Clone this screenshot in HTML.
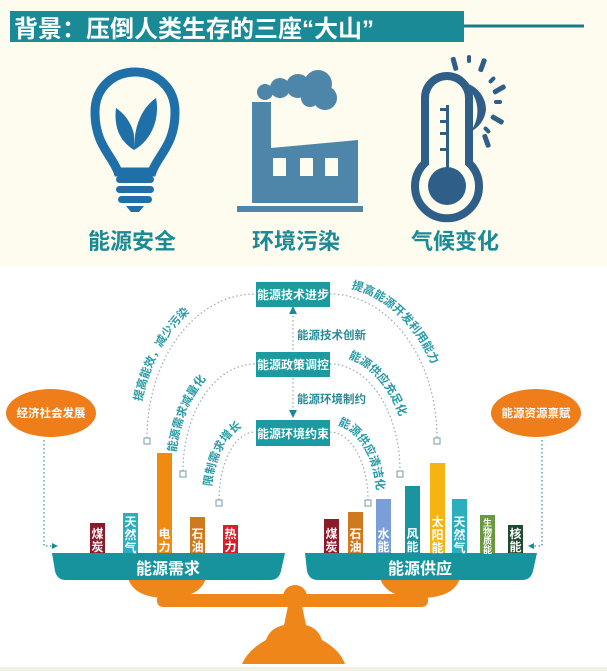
<!DOCTYPE html>
<html><head><meta charset="utf-8"><style>
html,body{margin:0;padding:0;background:#fff}
svg{display:block}
text{font-family:"Liberation Sans","Noto Sans CJK SC",sans-serif;font-weight:bold}
</style></head><body>
<svg width="607" height="671" viewBox="0 0 607 671" xmlns="http://www.w3.org/2000/svg">
<rect x="0" y="0" width="607" height="266" fill="#fdfcee"/>
<rect x="0" y="266" width="607" height="405" fill="#ffffff"/>
<!-- header -->
<rect x="10" y="11" width="454" height="31" fill="#1a8a96"/>
<line x1="464" y1="26" x2="584" y2="26" stroke="#1a7a86" stroke-width="3"/>
<text x="14" y="37" font-size="24" fill="#fff" font-family="Liberation Serif,Noto Serif CJK SC,serif">背景：压倒人类生存的三座“大山”</text>

<!-- bulb -->
<g fill="none" stroke="#1f6fa8">
<path d="M118,172 C112,155 95,145 95,112 C95,88 113,72 135,72 C157,72 175,88 175,112 C175,145 158,155 152,172 Z" stroke-width="9"/>
</g>
<g fill="#1f6fa8">
<rect x="116" y="176" width="38" height="7" rx="3.5"/>
<rect x="116" y="186" width="38" height="7" rx="3.5"/>
<rect x="118" y="196" width="34" height="7" rx="3.5"/>
<path d="M126,206 L144,206 L139,212 L131,212 Z"/>
<path d="M134,150 C118,140 114,125 116,108 C125,114 132,124 134,135 Z"/>
<path d="M134,150 C134,125 142,108 156,98 C160,118 152,140 134,150 Z"/>
</g>
<!-- factory -->
<g fill="#4d86a8">
<rect x="237" y="206" width="126" height="6"/>
<path d="M252,203 L252,102 L271,102 L271,148 L358,140 L358,203 Z"/>
<circle cx="265" cy="92" r="8"/><circle cx="280" cy="88" r="10"/><circle cx="298" cy="86" r="12"/><circle cx="318" cy="84" r="14"/><circle cx="325" cy="98" r="12"/><circle cx="310" cy="98" r="9"/>
</g>
<g fill="#fdfcee">
<rect x="273" y="158" width="13" height="18"/><rect x="300" y="158" width="13" height="18"/><rect x="325" y="158" width="13" height="18"/>
</g>
<!-- thermometer -->
<g fill="#2f5f88" stroke="none">
<path d="M458,82 A28,28 0 0 1 486,110 A28,28 0 0 1 470,132 A26,30 0 0 0 458,82 Z"/>
<rect x="452" y="57" width="5" height="14" rx="2" transform="rotate(-15 454 64)"/>
<rect x="467" y="55" width="4" height="8" rx="2"/>
<rect x="480" y="58" width="5" height="14" rx="2" transform="rotate(20 482 65)"/>
<rect x="490" y="76" width="4" height="8" rx="2" transform="rotate(45 492 80)"/>
<rect x="497" y="82" width="5" height="14" rx="2" transform="rotate(60 499 89)"/>
<rect x="494" y="100" width="8" height="4" rx="2"/>
<rect x="495" y="113" width="5" height="14" rx="2" transform="rotate(-60 497 120)"/>
<rect x="485" y="126" width="4" height="8" rx="2" transform="rotate(-45 487 130)"/>
<rect x="484" y="134" width="5" height="14" rx="2" transform="rotate(-20 486 141)"/>
</g>
<path d="M425,163 L425,98 A22,22 0 0 1 469,98 L469,163 A32,32 0 1 1 425,163 Z" fill="none" stroke="#2f5f88" stroke-width="8"/>
<circle cx="447" cy="186" r="19" fill="#2f5f88"/>
<rect x="446" y="105" width="3" height="70" fill="#2f5f88"/>
<g fill="#2f5f88"><rect x="440" y="108" width="6" height="3"/><rect x="440" y="120" width="6" height="3"/><rect x="440" y="132" width="6" height="3"/><rect x="440" y="148" width="6" height="3"/></g>

<g font-size="22" fill="#1a8a96" text-anchor="middle">
<text x="132" y="249">能源安全</text>
<text x="296" y="249">环境污染</text>
<text x="455" y="249">气候变化</text>
</g>

<!-- arcs -->
<g fill="none" stroke="#9aa8b0" stroke-width="1.2" stroke-dasharray="1.5,2.5">
<path d="M147,438 A108,144 0 0 1 255,294"/>
<path d="M330,294 A107,144 0 0 1 437,438"/>
<path d="M183,471 A72,107 0 0 1 255,364"/>
<path d="M330,364 A70,107 0 0 1 400,471"/>
<path d="M219,500 A36,68 0 0 1 255,432"/>
<path d="M330,432 A38,68 0 0 1 368,500"/>
<path d="M293,308 L293,350 M293,378 L293,417"/>
<path d="M44,440 L44,546 L56,546 M542,440 L542,546 L530,546" stroke="#3a8a96"/>
</g>
<g fill="#fff" stroke="#7a9aa8" stroke-width="1">
<rect x="144" y="438" width="6" height="6"/><rect x="434" y="438" width="6" height="6"/>
<rect x="180" y="471" width="6" height="6"/><rect x="397" y="471" width="6" height="6"/>
<rect x="216" y="500" width="6" height="6"/><rect x="365" y="500" width="6" height="6"/>
</g>
<g fill="#1a8a96">
<path d="M289,314 L293,306 L297,314 Z"/><path d="M289,410 L293,418 L297,410 Z"/>
<path d="M52,543 L58,546 L52,549 Z"/><path d="M534,543 L528,546 L534,549 Z"/>
</g>
<defs>
<path id="a1" d="M138,440 A117,154 0 0 1 255,286"/>
<path id="a2" d="M330,286 A117,154 0 0 1 447,440"/>
<path id="a3" d="M175,471 A80,116 0 0 1 255,355"/>
<path id="a4" d="M330,355 A79,116 0 0 1 409,471"/>
<path id="a5" d="M211,500 A44,76 0 0 1 255,424"/>
<path id="a6" d="M330,424 A47,76 0 0 1 377,500"/>
</defs>
<g font-size="11.5" fill="#2a9aa6" font-weight="bold">
<text><textPath href="#a1" startOffset="18%">提高能效，减少污染</textPath></text>
<text><textPath href="#a2" startOffset="10%">提高能源开发利用能力</textPath></text>
<text><textPath href="#a3" startOffset="12%">能源需求减量化</textPath></text>
<text><textPath href="#a4" startOffset="12%">能源供应充足化</textPath></text>
<text><textPath href="#a5" startOffset="14%">限制需求增长</textPath></text>
<text><textPath href="#a6" startOffset="8%">能源供应清洁化</textPath></text>
</g>
<g font-size="11.5" fill="#2a8a96">
<text x="297" y="339">能源技术创新</text>
<text x="297" y="403">能源环境制约</text>
</g>
<!-- boxes -->
<g fill="#1b9aa0"><rect x="256" y="282" width="74" height="25"/><rect x="256" y="352" width="74" height="25"/><rect x="256" y="420" width="74" height="26"/></g>
<g font-size="12" fill="#fff" text-anchor="middle">
<text x="293" y="299">能源技术进步</text><text x="293" y="369">能源政策调控</text><text x="293" y="438">能源环境约束</text>
</g>
<!-- ovals -->
<ellipse cx="51" cy="413" rx="45" ry="24" fill="#ee7d1a"/>
<ellipse cx="536" cy="413" rx="45" ry="24" fill="#ee7d1a"/>
<g font-size="11.5" fill="#fff" text-anchor="middle"><text x="51" y="417">经济社会发展</text><text x="536" y="417">能源资源禀赋</text></g>

<!-- scale -->
<g fill="#ee861a">
<path d="M128,578 L206,578 Q200,598 167,598 Q134,598 128,578 Z"/>
<path d="M380,578 L460,578 Q454,598 420,598 Q386,598 380,578 Z"/>
<rect x="157" y="594" width="271" height="13" rx="6"/>
<circle cx="295" cy="597" r="12"/>
<path d="M288,606 L302,606 L306,625 Q318,628 322,640 Q340,650 345,664 L242,664 Q248,650 266,640 Q270,628 284,625 Z"/>
</g>
<g fill="#17939e">
<path d="M52,553 L285,553 L281,571 Q279,580 270,580 L66,580 Q57,580 55,571 Z"/>
<path d="M305,553 L537,553 L533,571 Q531,580 522,580 L318,580 Q309,580 307,571 Z"/>
</g>
<g font-size="16" fill="#fff" text-anchor="middle"><text x="168" y="574">能源需求</text><text x="420" y="574">能源供应</text></g>

<!-- bars -->
<g>
<rect x="90" y="523" width="15" height="30" fill="#8b1a2a"/>
<rect x="123" y="513" width="15" height="40" fill="#2aaec0"/>
<rect x="157" y="453" width="15" height="100" fill="#f08a10"/>
<rect x="190" y="517" width="15" height="36" fill="#d07a20"/>
<rect x="223" y="525" width="15" height="28" fill="#d81e2a"/>
<rect x="324" y="519" width="15" height="34" fill="#8b1a2a"/>
<rect x="348" y="512" width="15" height="41" fill="#d07a20"/>
<rect x="376" y="499" width="15" height="54" fill="#7a9fd8"/>
<rect x="405" y="486" width="15" height="67" fill="#1a95a0"/>
<rect x="430" y="463" width="15" height="90" fill="#f5b410"/>
<rect x="452" y="499" width="15" height="54" fill="#2aaec0"/>
<rect x="480" y="515" width="15" height="38" fill="#6a9a40"/>
<rect x="508" y="525" width="15" height="28" fill="#1e4a30"/>
</g>
<g font-size="12" fill="#fff" text-anchor="middle" font-weight="normal">
<text x="97.5" y="538">煤</text><text x="97.5" y="551">炭</text>
<text x="130.5" y="526">天</text><text x="130.5" y="539">然</text><text x="130.5" y="552">气</text>
<text x="164.5" y="538">电</text><text x="164.5" y="551">力</text>
<text x="197.5" y="538">石</text><text x="197.5" y="551">油</text>
<text x="230.5" y="538">热</text><text x="230.5" y="551">力</text>
<text x="331.5" y="538">煤</text><text x="331.5" y="551">炭</text>
<text x="355.5" y="538">石</text><text x="355.5" y="551">油</text>
<text x="383.5" y="538">水</text><text x="383.5" y="551">能</text>
<text x="412.5" y="538">风</text><text x="412.5" y="551">能</text>
<text x="437.5" y="526">太</text><text x="437.5" y="539">阳</text><text x="437.5" y="552">能</text>
<text x="459.5" y="526">天</text><text x="459.5" y="539">然</text><text x="459.5" y="552">气</text>
<text x="515.5" y="538">核</text><text x="515.5" y="551">能</text>
</g>
<g font-size="9" fill="#fff" text-anchor="middle" font-weight="normal">
<text x="487.5" y="526">生</text><text x="487.5" y="535">物</text><text x="487.5" y="544">质</text><text x="487.5" y="553">能</text>
</g>
<rect x="0" y="667" width="607" height="4" fill="#f3f0e4"/>
</svg>
</body></html>
